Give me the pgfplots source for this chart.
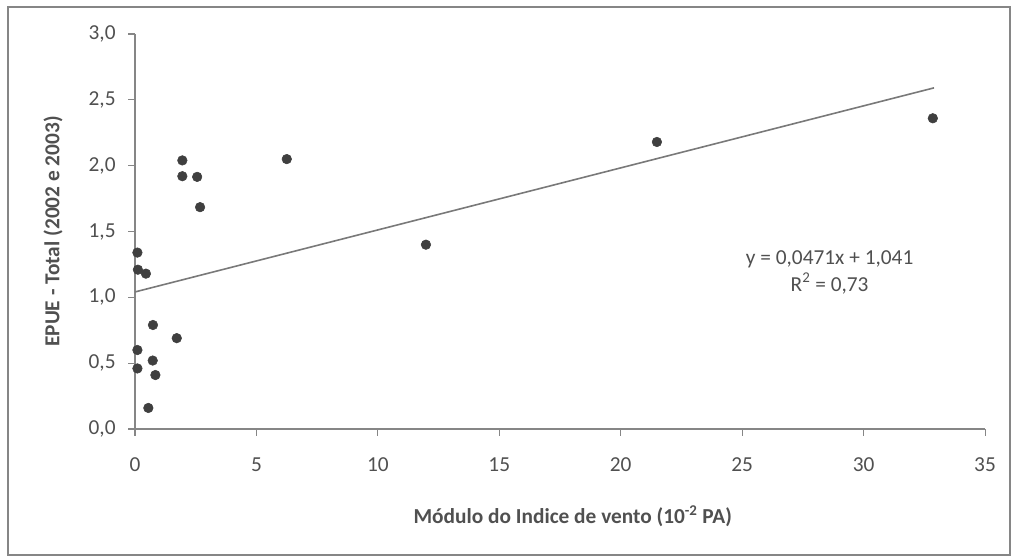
\documentclass[border=0pt]{standalone}
\usepackage{fontspec}
\setmainfont{Carlito}
\usepackage{pgfplots}
\pgfplotsset{compat=1.18}

\definecolor{axgray}{HTML}{868686}
\definecolor{txtgray}{HTML}{505050}
\definecolor{ptgray}{HTML}{3F3F3F}

\begin{document}
\begin{tikzpicture}
\begin{axis}[
  scale only axis,
  width=637.5pt, height=296.25pt,
  xmin=0, xmax=35, ymin=0, ymax=3,
  xtick={0,5,...,35},
  ytick={0,0.5,...,3},
  axis x line*=bottom, axis y line*=left,
  axis line style={axgray, line width=1pt},
  tick style={axgray, line width=0.8pt},
  tick align=outside,
  major tick length=5pt,
  ticklabel style={font=\fontsize{16}{18}\selectfont, text=txtgray},
  x tick label style={yshift=-13pt},
  y tick label style={xshift=-6pt, /pgf/number format/fixed, /pgf/number format/fixed zerofill, /pgf/number format/precision=1},
  /pgf/number format/assume math mode=true,
  /pgf/number format/use comma,
  xlabel={\bfseries Módulo do Indice de vento (10\textsuperscript{-2} PA)},
  ylabel={\bfseries EPUE - Total (2002 e 2003)},
  label style={font=\fontsize{16}{18}\selectfont, text=txtgray},
  xlabel style={at={(axis description cs:0.515,-0.2214)}, anchor=center},
  ylabel style={at={(axis description cs:-0.0965,0.5)}, anchor=center, rotate=0},
  clip=false,
]
\addplot[only marks, mark=*, mark size=3.6pt, mark options={fill=ptgray, draw=ptgray}] coordinates {
  (0.10,1.34) (0.12,1.21) (0.45,1.18)
  (0.74,0.79) (1.72,0.69) (0.10,0.60)
  (0.73,0.52) (0.10,0.46) (0.84,0.41)
  (0.55,0.16) (1.95,2.04) (1.95,1.92)
  (2.56,1.915) (2.68,1.685) (6.25,2.05)
  (11.98,1.40) (21.49,2.18) (32.85,2.36)
};
\addplot[no marks, color=axgray!90!black, line width=1.2pt] coordinates {(0,1.041) (32.9,2.591)};
\node[font=\fontsize{16}{20}\selectfont, text=txtgray, align=center] at (axis cs:28.6,1.19)
  {y = 0,0471x + 1,041\\R\textsuperscript{2} = 0,73};
\draw[axgray, line width=1.5pt] (rel axis cs:-0.1494,-0.319) rectangle (rel axis cs:1.0294,1.0684);
\path (rel axis cs:-0.1588,-0.3266) rectangle (rel axis cs:1.0329,1.0861);
\end{axis}
\end{tikzpicture}
\end{document}
